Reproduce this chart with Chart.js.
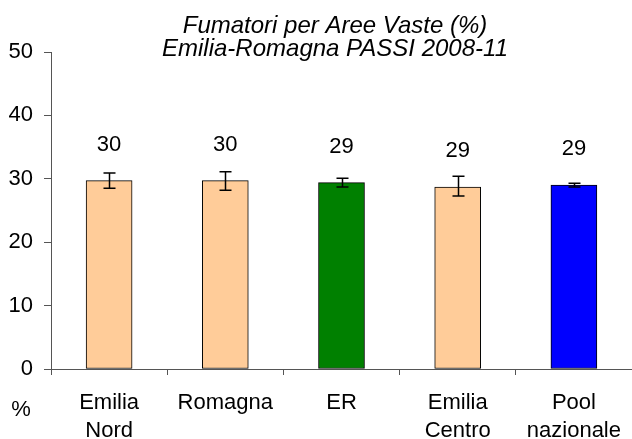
<!DOCTYPE html>
<html>
<head>
<meta charset="utf-8">
<script src="https://cdn.jsdelivr.net/npm/chart.js@4"></script>
<style>
  body { margin: 0; background: #fff; }
</style>
</head>
<body>
<canvas id="grafico" width="632" height="439"></canvas>
<script>
const aree = [['Emilia', 'Nord'], 'Romagna', 'ER', ['Emilia', 'Centro'], ['Pool', 'nazionale']];
const fumatori = [29.7, 29.7, 29.4, 28.7, 29.0];
const limInf = [28.5, 28.2, 28.7, 27.3, 28.7];
const limSup = [30.9, 31.1, 30.1, 30.4, 29.3];
const colori = ['#FFCC99', '#FFCC99', '#008000', '#FFCC99', '#0000FF'];
const tickY = [0, 10, 20, 30, 40, 50];

const FONT = "Arial, 'Liberation Sans', sans-serif";

// barre di errore + etichette con i valori
const extra = {
  id: 'extra',
  afterDatasetsDraw(chart) {
    const ctx = chart.ctx;
    const y = chart.scales.y;
    const meta = chart.getDatasetMeta(0);
    ctx.save();
    ctx.strokeStyle = '#000';
    ctx.lineWidth = 1.5;
    meta.data.forEach((bar, i) => {
      const x = Math.round(bar.x) + 0.5;
      const y1 = y.getPixelForValue(limSup[i]);
      const y2 = y.getPixelForValue(limInf[i]);
      ctx.beginPath();
      ctx.moveTo(x, y1); ctx.lineTo(x, y2);
      ctx.moveTo(x - 6, y1); ctx.lineTo(x + 6, y1);
      ctx.moveTo(x - 6, y2); ctx.lineTo(x + 6, y2);
      ctx.stroke();
      ctx.fillStyle = '#000';
      ctx.font = '22px ' + FONT;
      ctx.textAlign = 'center';
      ctx.textBaseline = 'middle';
      ctx.fillText(String(Math.round(fumatori[i])), bar.x, bar.y - 36);
    });
    ctx.restore();
  },
  afterDraw(chart) {
    const ctx = chart.ctx;
    ctx.save();
    ctx.fillStyle = '#000';
    ctx.textAlign = 'center';
    ctx.textBaseline = 'alphabetic';
    ctx.font = 'italic 24px ' + FONT;
    ctx.fillText('Fumatori per Aree Vaste (%)', 335, 33);
    ctx.fillText('Emilia-Romagna PASSI 2008-11', 335, 56);
    ctx.font = '22px ' + FONT;
    ctx.fillText('%', 21, 416);
    ctx.restore();
  }
};

new Chart(document.getElementById('grafico'), {
  type: 'bar',
  data: {
    labels: aree,
    datasets: [{
      data: fumatori,
      backgroundColor: colori,
      borderColor: '#000',
      borderWidth: 1,
      borderSkipped: false,
      barThickness: 46
    }]
  },
  options: {
    responsive: false,
    animation: false,
    layout: { padding: { top: 52, right: 0, left: 0, bottom: 0 } },
    plugins: {
      legend: { display: false },
      tooltip: { enabled: false }
    },
    scales: {
      x: {
        afterFit(scale) {
          scale.height = 70;
          scale.paddingLeft = 0;
          scale.paddingRight = 0;
        },
        grid: { offset: true, drawOnChartArea: false, tickLength: 6, color: '#555' },
        border: { color: '#555', width: 1 },
        ticks: {
          color: '#000',
          font: { size: 22, family: FONT, lineHeight: '28px' },
          padding: 14,
          maxRotation: 0,
          autoSkip: false
        }
      },
      y: {
        min: 0,
        max: 50,
        afterFit(scale) { scale.width = 51; },
        afterBuildTicks(scale) { scale.ticks = tickY.map(v => ({ value: v })); },
        grid: { drawOnChartArea: false, tickLength: 7, color: '#555' },
        border: { color: '#555', width: 1 },
        ticks: {
          color: '#000',
          font: { size: 22, family: FONT },
          padding: 11
        }
      }
    }
  },
  plugins: [extra]
});
</script>
</body>
</html>
